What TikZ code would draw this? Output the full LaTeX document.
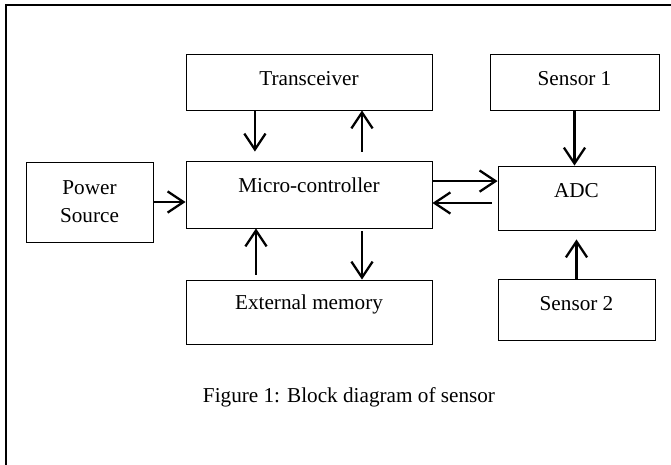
\documentclass[tikz,border=0pt]{standalone}
\usepackage{fontspec}
\setmainfont{Liberation Serif}
\usetikzlibrary{arrows.meta}

\tikzset{
	block/.style={draw,line width=0.5pt,rectangle,inner sep=2pt,text height=8pt,
		font=\fontsize{12pt}{15.8pt}\selectfont,align=center},
	link/.style={line width=1.3pt,-{Straight Barb[length=9pt,width=12pt]}}
}

\begin{document}
\begin{tikzpicture}[x=0.566pt,y=-0.566pt]
\useasboundingbox (0,0) rectangle (671,464);

% FRAME
\draw[line width=1.1pt] (6,500) -- (6,5) -- (700,5);

% BLOCKS
\node[block,minimum width=139.2pt,minimum height=31.7pt,text depth=4.5pt] (trans) at (309,82) {Transceiver};
\node[block,minimum width=95.7pt,minimum height=31.7pt,text depth=4.5pt] (sens1) at (574.5,82) {Sensor 1};
\node[block,minimum width=139.2pt,minimum height=37.9pt,text depth=10.8pt] (mc) at (309,194.5) {Micro-controller};
\node[block,minimum width=71.9pt,minimum height=45.3pt,text height=,text depth=] (power) at (89.5,202) {Power\\Source};
\node[block,minimum width=88.9pt,minimum height=36.2pt,text depth=9pt] (adc) at (576.5,198) {ADC};
\node[block,minimum width=139.2pt,minimum height=36.2pt,text depth=11.3pt] (mem) at (309,312) {External memory};
\node[block,minimum width=88.9pt,minimum height=34.5pt,text depth=7.4pt] (sens2) at (576.5,309.5) {Sensor 2};

% LINKS
\draw[link,shorten >=5.1pt] ([xshift=-30.6pt]trans.south) -- ([xshift=-30.6pt]mc.north);
\draw[link,shorten <=5.1pt] ([xshift=30pt]mc.north) -- ([xshift=30pt]trans.south);
\draw[link] (power.east) -- (power.east -| mc.west);
\draw[link] ([yshift=7.6pt]mc.east) -- ([yshift=7.6pt]mc.east -| adc.west);
\draw[link,shorten <=3.4pt] ([yshift=-4.8pt]mc.east -| adc.west) -- ([yshift=-4.8pt]mc.east);
\draw[link] (sens1.south) -- (sens1.south |- adc.north);
\draw[link,shorten >=5.1pt] (sens2.north) -- (sens2.north |- adc.south);
\draw[link,shorten <=2.8pt] ([xshift=-30pt]mem.north) -- ([xshift=-30pt]mc.south);
\draw[link,shorten <=1.7pt] ([xshift=30pt]mc.south) -- ([xshift=30pt]mem.north);

% CAPTION
\node[font=\fontsize{12pt}{14pt}\selectfont] (cap) at (349,397) {Figure 1: Block diagram of sensor};

\end{tikzpicture}
\end{document}
